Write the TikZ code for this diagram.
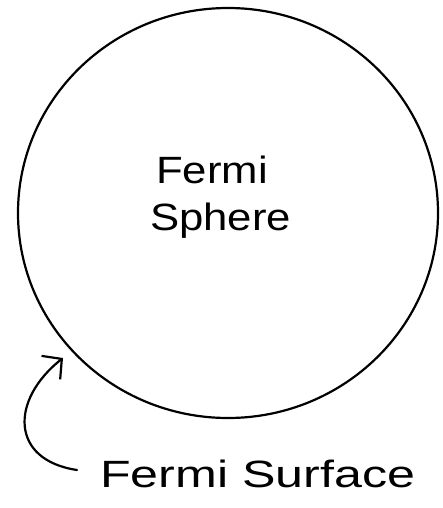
\documentclass[tikz,border=0pt]{standalone}
\usepackage{fontspec}
\setmainfont{Liberation Sans}
\usetikzlibrary{arrows.meta}
\begin{document}
\begin{tikzpicture}[x=1pt,y=-1pt,
  hand/.style={line width=2.2pt, black, line cap=round, line join=round},
  lbl/.style={inner sep=0pt, anchor=base west, font=\fontsize{38}{40}\selectfont}]
\useasboundingbox (0,0) rectangle (443,508);
\draw[hand] (228,213) ellipse [x radius=210, y radius=205];
\node[lbl] (fermi) at (156,183) {\scalebox{1.15}[1]{Fermi}};
\node[lbl] (sphere) at (150,230) {\scalebox{1.15}[1]{Sphere}};
\node[lbl] (surface) at (100,487) {\scalebox{1.32}[1]{Fermi Surface}};
\coordinate (start) at (77,470);
\coordinate (tip) at (63,358);
\draw[hand, -{Straight Barb[length=14pt,width=30pt,line width=2.2pt]}] (start) .. controls (10,460) and (10,400) .. (tip);
\end{tikzpicture}
\end{document}
